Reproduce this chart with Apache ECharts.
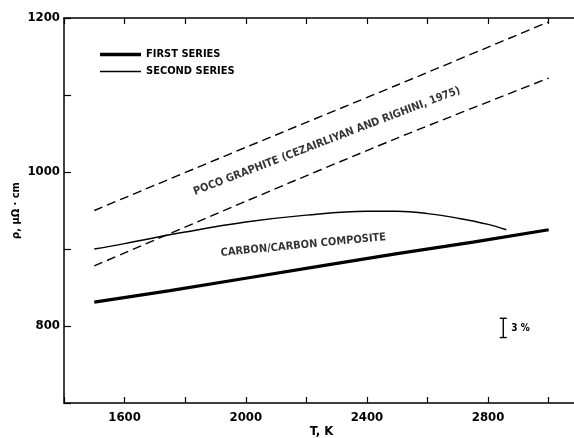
<!DOCTYPE html>
<html><head><meta charset="utf-8">
<script src="https://cdn.jsdelivr.net/npm/echarts@6/dist/echarts.min.js"></script>
<style>html,body{margin:0;padding:0;background:#fff}#c{width:574px;height:438px}</style>
</head><body><div id="c"></div>
<script>
// ---- data ----
const firstT = [1500, 1750, 2000, 2250, 2500, 2750, 3000];
const firstRho = [831, 846, 862, 878, 894, 909, 925];
const secondT = [1500, 1600, 1800, 2000, 2200, 2400, 2500, 2600, 2700, 2800, 2860];
const secondRho = [900, 907, 922, 935, 944, 949, 949, 946, 940, 932, 925];
const pocoT = [1500, 2000, 2500, 3000];
const pocoUpper = [950, 1032, 1113, 1195];
const pocoLower = [878, 962, 1044, 1122];
const xLabelTicks = [1600, 2000, 2400, 2800];
const yLabelTicks = [800, 1000, 1200];
const errBar = [2850, 785, 810];      // x, low, high (3 %)
const pocoNote = [2268, 1040];
const carbonNote = [2190, 905];

const FONT = '"DejaVu Sans Condensed", "Liberation Sans Narrow", "DejaVu Sans", sans-serif';
const pair = (xs, ys) => xs.map((x, i) => [x, ys[i]]);

const chart = echarts.init(document.getElementById('c'), null, {renderer: 'canvas'});
const axisLine = {show: true, lineStyle: {color: '#000', width: 1.5}};
chart.setOption({
  animation: false,
  backgroundColor: '#fff',
  grid: {left: 64, right: -5, top: 18, bottom: 35, outerBoundsMode: 'none', containLabel: false},
  legend: {
    data: [
      {name: 'FIRST SERIES', icon: 'path://M0,0H40V3.2H0Z'},
      {name: 'SECOND SERIES', icon: 'path://M0,0H40V1.4H0Z'}
    ],
    orient: 'vertical', left: 95, top: 44,
    itemWidth: 41, itemHeight: 14, itemGap: 6,
    textStyle: {fontFamily: FONT, fontWeight: 'bold', fontSize: 11, color: '#000'}
  },
  xAxis: [{
    type: 'value', min: 1400, max: 3100, interval: 200,
    name: 'T, K', nameLocation: 'middle', nameGap: 22, nameMoveOverlap: false,
    nameTextStyle: {fontFamily: FONT, fontWeight: 'bold', fontSize: 13, color: '#000'},
    axisLine: axisLine,
    axisTick: {show: true, inside: true, length: 6, lineStyle: {color: '#000', width: 1.2}},
    axisLabel: {
      margin: 8, fontFamily: FONT, fontWeight: 'bold', fontSize: 13, color: '#000',
      formatter: v => xLabelTicks.includes(v) ? String(v) : ''
    },
    splitLine: {show: false}
  }, {
    type: 'value', position: 'top', min: 1400, max: 3100, interval: 200,
    axisLine: axisLine,
    axisTick: {show: true, inside: true, length: 6, lineStyle: {color: '#000', width: 1.2}},
    axisLabel: {show: false}, splitLine: {show: false}
  }],
  yAxis: {
    type: 'value', min: 700, max: 1200, interval: 100,
    name: 'ρ, μΩ · cm', nameLocation: 'middle', nameGap: 42, nameMoveOverlap: false,
    nameTextStyle: {fontFamily: FONT, fontWeight: 'bold', fontSize: 11, color: '#000'},
    axisLine: axisLine,
    axisTick: {show: true, inside: true, length: 7, lineStyle: {color: '#000', width: 1.2}},
    axisLabel: {
      margin: 4, fontFamily: FONT, fontWeight: 'bold', fontSize: 13, color: '#000',
      formatter: v => yLabelTicks.includes(v) ? String(v) : ''
    },
    splitLine: {show: false}
  },
  series: [
    {name: 'FIRST SERIES', type: 'line', data: pair(firstT, firstRho), symbol: 'none',
     lineStyle: {color: '#000', width: 3.2}, itemStyle: {color: '#000'}},
    {name: 'SECOND SERIES', type: 'line', data: pair(secondT, secondRho), symbol: 'none', smooth: 0.4,
     lineStyle: {color: '#000', width: 1.4}, itemStyle: {color: '#000'}},
    {name: 'POCO upper', type: 'line', data: pair(pocoT, pocoUpper), symbol: 'none', smooth: 0.3,
     lineStyle: {color: '#000', width: 1.4, type: [9, 5]}},
    {name: 'POCO lower', type: 'line', data: pair(pocoT, pocoLower), symbol: 'none', smooth: 0.3,
     lineStyle: {color: '#000', width: 1.4, type: [9, 5]}},
    {name: 'notes', type: 'scatter', symbolSize: 1, itemStyle: {color: 'rgba(0,0,0,0)'},
     data: [
       {value: pocoNote, label: {show: true, position: 'inside', rotate: 21,
         formatter: 'POCO GRAPHITE (CEZAIRLIYAN AND RIGHINI, 1975)',
         fontFamily: FONT, fontWeight: 'bold', fontStyle: 'normal', fontSize: 11, color: '#000'}},
       {value: carbonNote, label: {show: true, position: 'inside', rotate: 5.5,
         formatter: 'CARBON/CARBON COMPOSITE',
         fontFamily: FONT, fontWeight: 'bold', fontStyle: 'normal', fontSize: 11, color: '#000'}}
     ]},
    {name: 'err', type: 'custom', data: [errBar], encode: {x: 0, y: [1, 2]},
     renderItem: function (params, api) {
       const x = api.value(0);
       const lo = api.coord([x, api.value(1)]);
       const hi = api.coord([x, api.value(2)]);
       const st = {stroke: '#000', lineWidth: 1.4};
       return {type: 'group', children: [
         {type: 'line', shape: {x1: hi[0], y1: hi[1], x2: lo[0], y2: lo[1]}, style: st},
         {type: 'line', shape: {x1: hi[0] - 3.5, y1: hi[1], x2: hi[0] + 3.5, y2: hi[1]}, style: st},
         {type: 'line', shape: {x1: lo[0] - 3.5, y1: lo[1], x2: lo[0] + 3.5, y2: lo[1]}, style: st},
         {type: 'text', style: {text: '3 %', x: hi[0] + 8, y: (hi[1] + lo[1]) / 2,
           verticalAlign: 'middle', fill: '#000', fontFamily: FONT, fontWeight: 'bold', fontSize: 10}}
       ]};
     }}
  ]
});
</script>
</body></html>
